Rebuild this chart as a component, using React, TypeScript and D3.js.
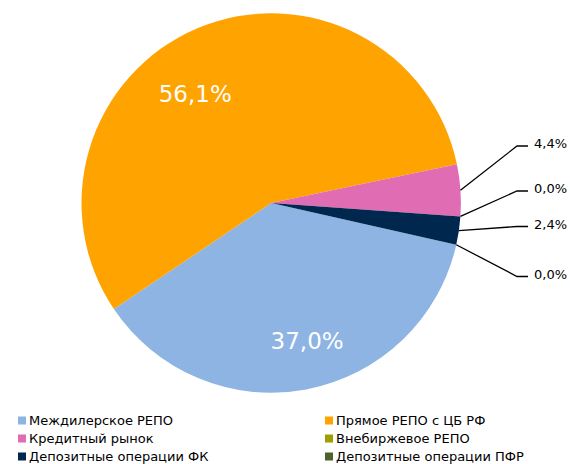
import React from 'react';
import * as d3 from 'd3';

// chart data, percent of total turnover
const categories = [
  'Междилерское РЕПО',
  'Прямое РЕПО с ЦБ РФ',
  'Кредитный рынок',
  'Внебиржевое РЕПО',
  'Депозитные операции ФК',
  'Депозитные операции ПФР',
];
const shares = [37.0, 56.1, 4.4, 0.0, 2.4, 0.0];
const colors = ['#8DB4E2', '#FFA300', '#E06CB4', '#9BA000', '#00284F', '#4F6228'];

// layout
const width = 570;
const height = 464;
const cx = 271.2;
const cy = 203;
const radius = 189.7;
const firstSliceAngle = 102.7; // degrees clockwise from 12 o'clock
const insideSlices = [0, 1];
const insideShift = [-4, -12]; // degrees, excel "best fit" offset
const insideRadius = [0.75, 0.7];
const outsideY = [146, 191, 226.5, 276.5]; // leader line level for slices 2..5
const elbowX = 517;
const leaderEndX = 528;
const labelX = 534;
const font = '"DejaVu Sans", Verdana, sans-serif';

const fmt = (v: number) => v.toFixed(1).replace('.', ',') + '%';
const polar = (a: number, r: number): [number, number] => [cx + r * Math.sin(a), cy - r * Math.cos(a)];

const App = () => {
  const start = (firstSliceAngle * Math.PI) / 180;
  const pie = d3
    .pie<number>()
    .sort(null)
    .value((d) => d)
    .startAngle(start)
    .endAngle(start + 2 * Math.PI);
  const arcs = pie(shares);
  const arc = d3.arc<d3.PieArcDatum<number>>().innerRadius(0).outerRadius(radius);

  return (
    <svg width={width} height={height} style={{ position: 'absolute', left: 0, top: 0 }} fontFamily={font}>
      <rect width={width} height={height} fill="#fff" />
      <g transform={`translate(${cx},${cy})`}>
        {arcs.map((d, i) => (
          <path key={i} d={arc(d) || ''} fill={colors[i]} />
        ))}
      </g>

      {insideSlices.map((i, k) => {
        const d = arcs[i];
        const mid = (d.startAngle + d.endAngle) / 2 + (insideShift[k] * Math.PI) / 180;
        const [x, y] = polar(mid, radius * insideRadius[k]);
        return (
          <text key={i} x={x} y={y} dy="0.36em" textAnchor="middle" fill="#fff" fontSize={23}>
            {fmt(shares[i])}
          </text>
        );
      })}

      {outsideY.map((ly, k) => {
        const i = k + 2;
        const d = arcs[i];
        const mid = (d.startAngle + d.endAngle) / 2;
        const [x0, y0] = polar(mid, radius);
        const line = d3.line()([
          [x0, y0],
          [elbowX, ly],
          [leaderEndX, ly],
        ]);
        return (
          <g key={i}>
            <path d={line || ''} fill="none" stroke="#000" strokeWidth={1.3} />
            <text x={labelX} y={ly + 2} fontSize={13} fill="#000">
              {fmt(shares[i])}
            </text>
          </g>
        );
      })}

      {categories.map((c, i) => {
        const col = i % 2;
        const row = Math.floor(i / 2);
        const x = col === 0 ? 18 : 325;
        const y = 420.5 + row * 18;
        return (
          <g key={c}>
            <rect x={x} y={y - 4} width={8} height={8} fill={colors[i]} />
            <text x={x + 11} y={y} dy="0.36em" fontSize={13} fill="#000">
              {c}
            </text>
          </g>
        );
      })}
    </svg>
  );
};

export default App;
